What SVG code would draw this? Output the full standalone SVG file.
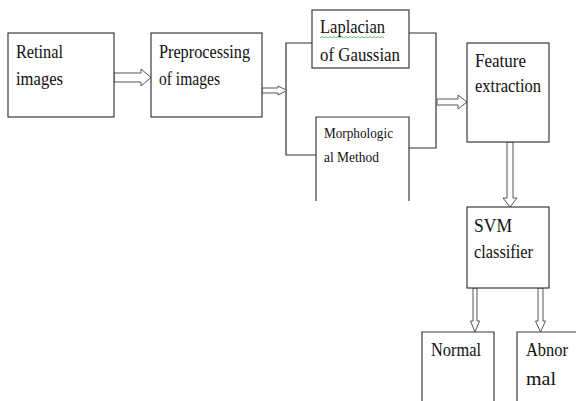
<svg xmlns="http://www.w3.org/2000/svg" width="576" height="401" viewBox="0 0 576 401">
<style>
.box{fill:#fff;stroke:#3a3a3a;stroke-width:1.2}
.open{fill:none;stroke:#3a3a3a;stroke-width:1.2}
.conn{fill:none;stroke:#333;stroke-width:1.2}
.arr{fill:#fff;stroke:#555;stroke-width:1}
text{font-family:"Liberation Serif","DejaVu Serif","Times New Roman",serif;font-size:19px;fill:#111}
.sm{font-size:15px}
</style>
<rect width="576" height="401" fill="#fff"/>
<g id="connectors">
<polyline class="conn" points="312,43 286,43 286,155 316,155"/>
<polyline class="conn" points="409,33 436,33 436,148 409,148"/>
<polygon class="arr" points="114,73 141,73 141,69 151,77.5 141,86 141,82 114,82"/>
<polygon class="arr" points="262,88 278,88 278,86 287,90.5 278,95 278,93 262,93"/>
<polygon class="arr" points="437,99 458,99 458,95 467,102 458,109 458,105 437,105"/>
<polygon class="arr" points="507,142 507,198 503,198 510,207 517,198 513,198 513,142"/>
<polygon class="arr" points="473,288 473,321 470.5,321 475,332 479.5,321 477,321 477,288"/>
<polygon class="arr" points="538,288 538,321 535.5,321 540.5,332 545.5,321 543,321 543,288"/>
</g>
<g id="retinal">
<rect class="box" x="8" y="33" width="106" height="84"/>
<text x="16" y="58" textLength="47" lengthAdjust="spacingAndGlyphs">Retinal</text>
<text x="16" y="85" textLength="47" lengthAdjust="spacingAndGlyphs">images</text>
</g>
<g id="preprocessing">
<rect class="box" x="151" y="33" width="111" height="84"/>
<text x="159" y="58" textLength="91" lengthAdjust="spacingAndGlyphs">Preprocessing</text>
<text x="159" y="85" textLength="61" lengthAdjust="spacingAndGlyphs">of images</text>
</g>
<g id="laplacian">
<rect class="box" x="312" y="10" width="97" height="58"/>
<text x="320" y="33" textLength="65" lengthAdjust="spacingAndGlyphs">Laplacian</text>
<path d="M320,38 l2,-1.5 l2,1.5 l2,-1.5 l2,1.5 l2,-1.5 l2,1.5 l2,-1.5 l2,1.5 l2,-1.5 l2,1.5 l2,-1.5 l2,1.5 l2,-1.5 l2,1.5 l2,-1.5 l2,1.5 l2,-1.5 l2,1.5 l2,-1.5 l2,1.5 l2,-1.5 l2,1.5 l2,-1.5 l2,1.5 l2,-1.5 l2,1.5 l2,-1.5 l2,1.5 l2,-1.5 l2,1.5 l2,-1.5 l2,1.5" fill="none" stroke="#4caf50" stroke-width="0.8"/>
<text x="320" y="61" textLength="80" lengthAdjust="spacingAndGlyphs">of Gaussian</text>
</g>
<g id="morphological">
<path class="open" d="M316,201 V117 H409 V201"/>
<text class="sm" x="324" y="138" textLength="69" lengthAdjust="spacingAndGlyphs">Morphologic</text>
<text class="sm" x="324" y="162" textLength="55" lengthAdjust="spacingAndGlyphs">al Method</text>
</g>
<g id="feature">
<rect class="box" x="467" y="43" width="82" height="99"/>
<text x="475" y="67" textLength="51" lengthAdjust="spacingAndGlyphs">Feature</text>
<text x="475" y="92" textLength="66" lengthAdjust="spacingAndGlyphs">extraction</text>
</g>
<g id="svm">
<rect class="box" x="467" y="207" width="82" height="81"/>
<text x="474" y="232" textLength="38" lengthAdjust="spacingAndGlyphs">SVM</text>
<text x="474" y="258" textLength="59" lengthAdjust="spacingAndGlyphs">classifier</text>
</g>
<g id="normal">
<path class="open" d="M422,402 V332 H494 V402"/>
<text x="431" y="356" textLength="50" lengthAdjust="spacingAndGlyphs">Normal</text>
</g>
<g id="abnormal">
<path class="open" d="M517,402 V332 H577"/>
<text x="526" y="356" textLength="42" lengthAdjust="spacingAndGlyphs">Abnor</text>
<text x="526" y="385" textLength="30" lengthAdjust="spacingAndGlyphs">mal</text>
</g>
</svg>
